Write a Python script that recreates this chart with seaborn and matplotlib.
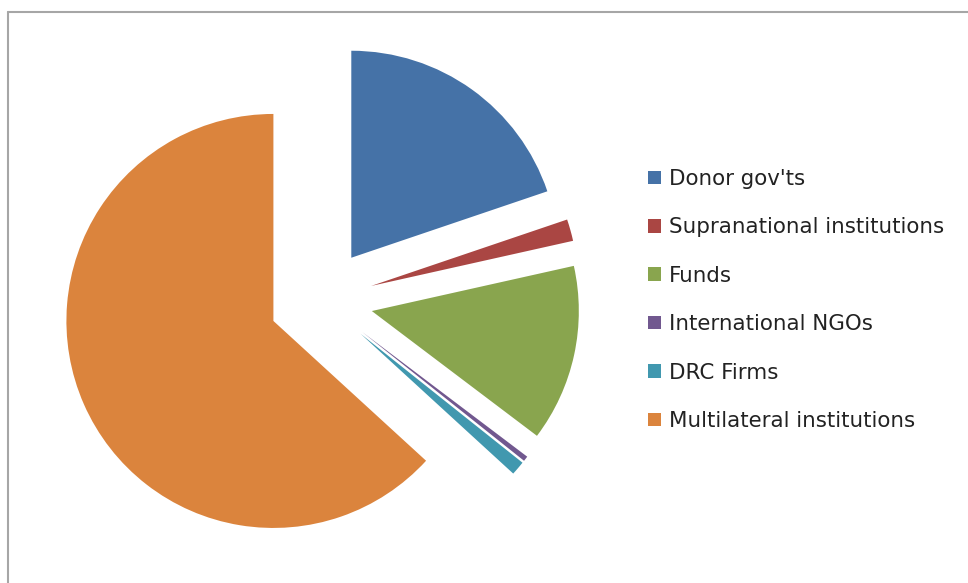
import seaborn as sns
import matplotlib.pyplot as plt
from matplotlib.lines import Line2D
from matplotlib.patches import Patch

# share of funding by source (%), clockwise from 12 o'clock
sources = ["Donor gov'ts", "Supranational institutions", "Funds",
           "International NGOs", "DRC Firms", "Multilateral institutions"]
shares = [19.8, 1.7, 13.8, 0.4, 1.1, 63.2]
colors = ["#4572A7", "#AA4643", "#89A54E", "#71588F", "#4198AF", "#DB843D"]

sns.set_style('white')
plt.rcParams['font.family'] = ['DejaVu Sans']

W, H = 968, 583
fig = plt.figure(figsize=(W / 100, H / 100), dpi=100)
ax = fig.add_axes([0, 0, 1, 1])

# axes in pixel units (y up) so the pie sits where it does in the original
ax.pie(shares, colors=colors, startangle=90, counterclock=False,
       center=(321, H - 300), radius=207, explode=[52] * len(shares),
       wedgeprops={'linewidth': 0})
ax.set_xlim(0, W)
ax.set_ylim(0, H)
ax.set_aspect('equal')
ax.axis('off')

# chart area border (top and left visible, the rest is cropped)
border = '#a6a6a6'
fig.add_artist(Line2D([8 / W, 1.01], [1 - 12 / H, 1 - 12 / H], color=border, lw=1.5, transform=fig.transFigure))
fig.add_artist(Line2D([8 / W, 8 / W], [1 - 12 / H, -0.01], color=border, lw=1.5, transform=fig.transFigure))

handles = [Patch(facecolor=c, edgecolor='none') for c in colors]
fig.legend(handles, sources, loc='center left', bbox_to_anchor=(648 / W, 1 - 300 / H),
           frameon=False, fontsize=15.4, labelcolor='#222222',
           borderpad=0, borderaxespad=0, handlelength=0.6, handleheight=0.6,
           handletextpad=0.38, labelspacing=1.33)

fig.savefig('out.png', dpi=100)
